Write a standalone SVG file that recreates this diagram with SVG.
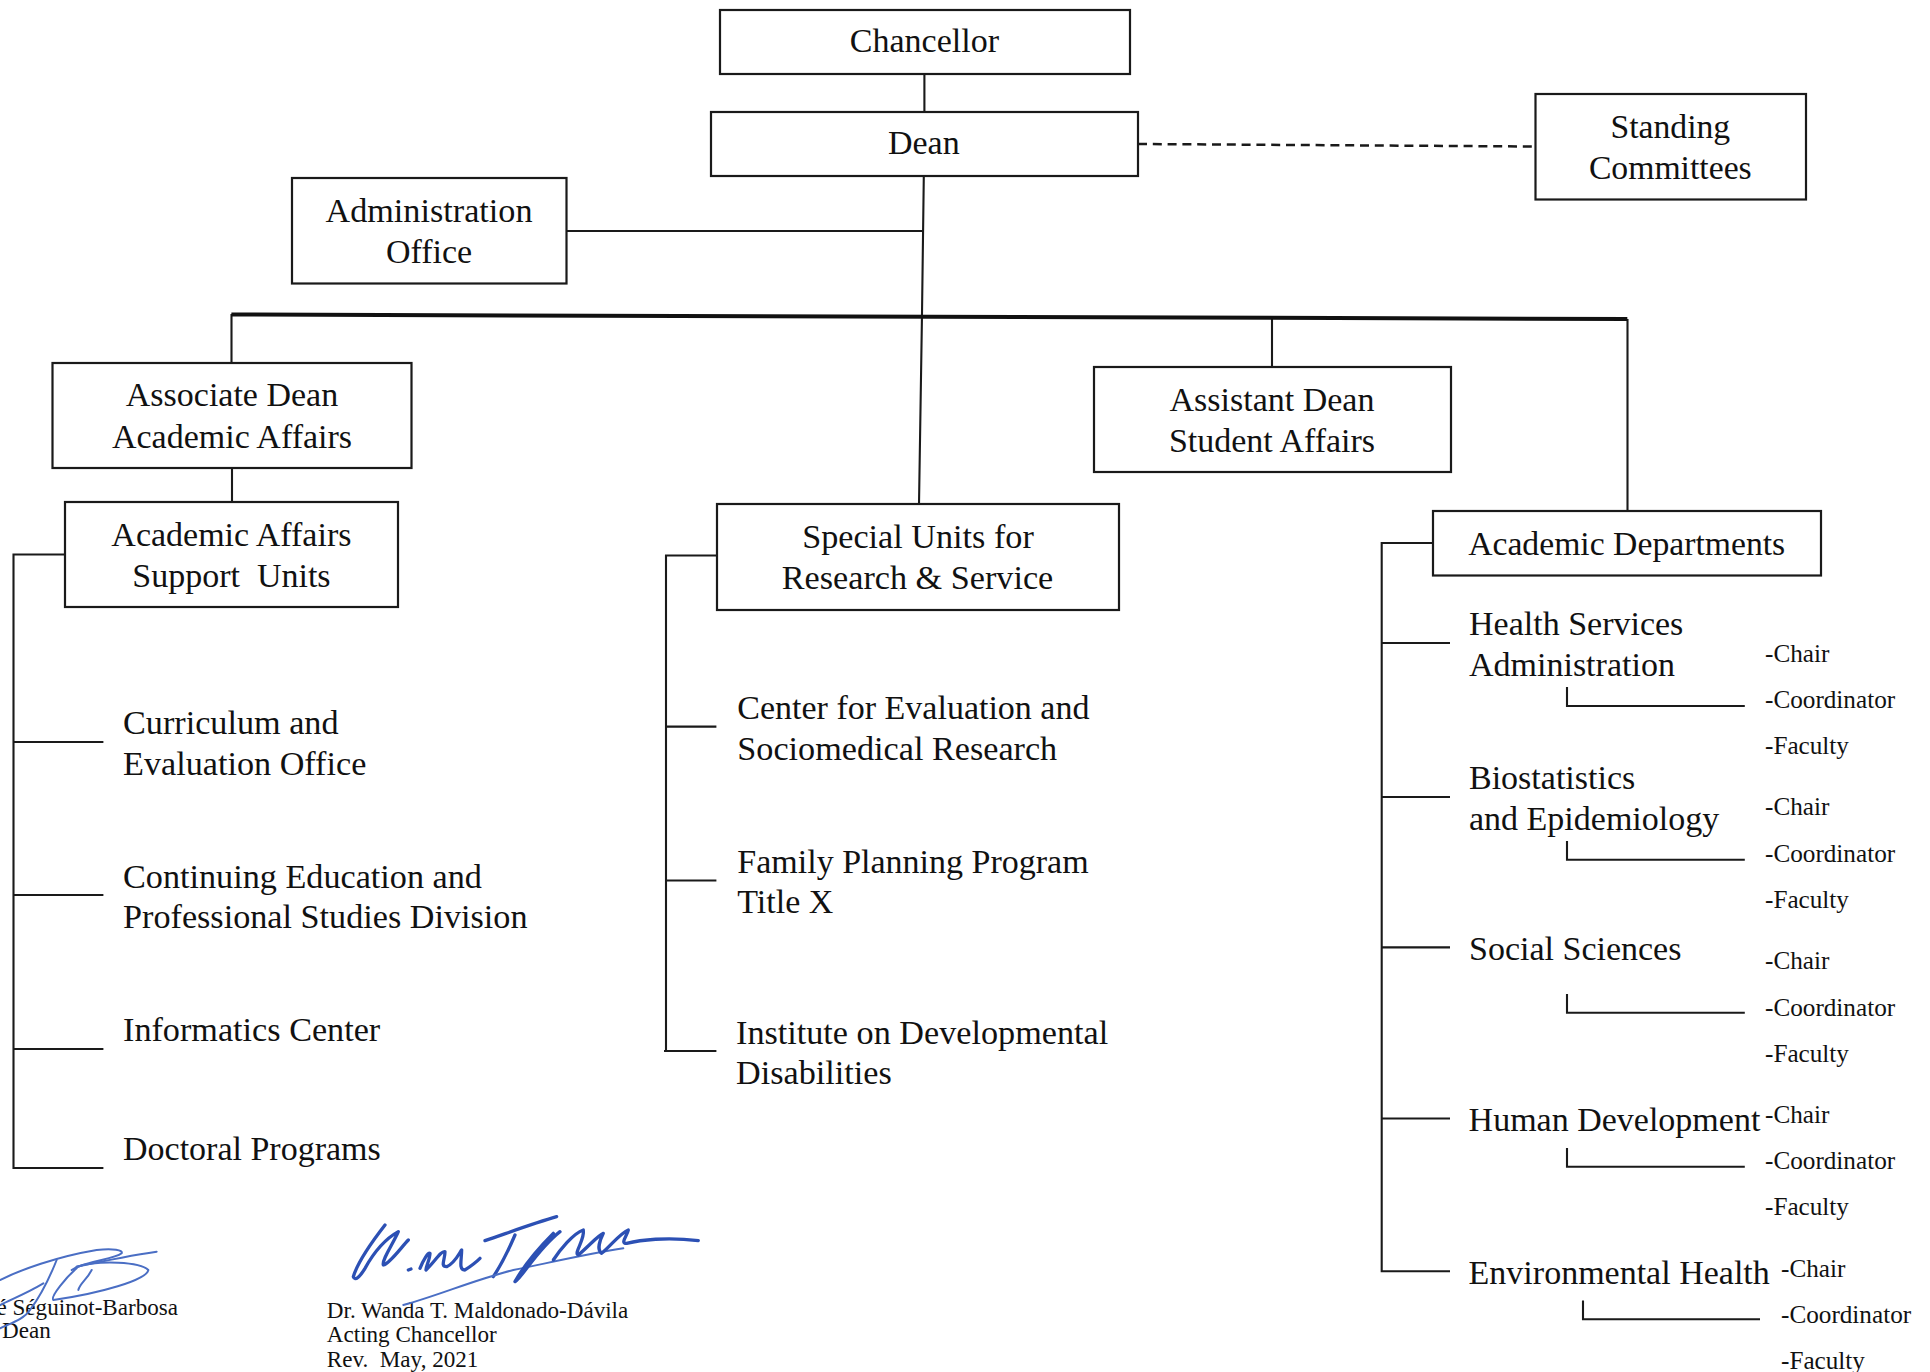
<svg xmlns="http://www.w3.org/2000/svg" width="1930" height="1372" viewBox="0 0 1930 1372">
<style>
text{font-family:"Liberation Serif","Times New Roman",serif;fill:#111;white-space:pre}
.b{fill:#fff;stroke:#1a1a1a;stroke-width:2.2}
.t{font-size:34px}
.w{font-size:34.2px}
.n{font-size:33.7px}
.c{text-anchor:middle}
.s{font-size:25.2px}
.g{font-size:23.1px}
.l{fill:none;stroke:#1a1a1a;stroke-width:2.1}
.sig path{fill:none;stroke:#2c50b4;stroke-width:3.3;stroke-linecap:round;stroke-linejoin:round;vector-effect:non-scaling-stroke}
.sig .f{stroke-width:2;stroke:#4a6ec4}
</style>
<rect width="1930" height="1372" fill="#fff"/>
<g id="connectors">
<path class="l" d="M924.4 74V112M923.8 176L922 314L919 504M567 231H923M231.5 314V363M232 468V502M1272 318V367M1627.5 319V511"/>
<path class="l" d="M231.4 314.5L1627.3 319" style="stroke-width:4;stroke:#111"/>
<path class="l" d="M1138 144L1535.5 146.5" stroke-dasharray="9 5.8" style="stroke-width:2.5"/>
<path class="l" d="M65 554.5H13.5V1168H103.4M13.5 742H103.4M13.5 895H103.4M13.5 1049H103.4"/>
<path class="l" d="M717 555.5H666V1050M666 726.6H716.4M666 880.5H716.4M664 1051H716.4"/>
<path class="l" d="M1433 543H1381.7V1271.3H1450M1381.7 643H1450M1381.7 797H1450M1381.7 947.4H1450M1381.7 1118.5H1450"/>
<path class="l" d="M1567 687V706H1744.8M1567 841V859.7H1744.8M1567 994V1012.8H1744.8M1567 1148V1166.7H1744.8M1583 1300.5V1319.3H1760"/>
</g>
<g id="chancellor"><rect class="b" x="720" y="10" width="410" height="64"/><text class="t c" x="924.4" y="52">Chancellor</text></g>
<g id="dean"><rect class="b" x="711" y="112" width="427" height="64"/><text class="t c" x="923.8" y="154.4">Dean</text></g>
<g id="standing-committees"><rect class="b" x="1535.5" y="94" width="270.5" height="105.5"/><text class="n c" x="1670.3" y="138">Standing</text><text class="n c" x="1670.3" y="178.7">Committees</text></g>
<g id="administration-office"><rect class="b" x="292" y="178" width="274.5" height="105.5"/><text class="w c" x="429" y="221.8">Administration</text><text class="t c" x="429" y="263.4">Office</text></g>
<g id="associate-dean"><rect class="b" x="52.5" y="363" width="359" height="105"/><text class="t c" x="232" y="406.4">Associate Dean</text><text class="t c" x="232" y="447.7">Academic Affairs</text></g>
<g id="support-units"><rect class="b" x="65" y="502" width="333" height="105"/><text class="t c" x="231.4" y="545.5">Academic Affairs</text><text class="t c" x="231.4" y="586.8">Support  Units</text></g>
<g id="special-units"><rect class="b" x="717" y="504" width="402" height="106"/><text class="w c" x="918" y="548">Special Units for</text><text class="w c" x="917.5" y="588.6">Research &amp; Service</text></g>
<g id="assistant-dean"><rect class="b" x="1094" y="367" width="357" height="105"/><text class="t c" x="1272" y="410.7">Assistant Dean</text><text class="t c" x="1272" y="452.4">Student Affairs</text></g>
<g id="academic-departments"><rect class="b" x="1433" y="511" width="388" height="64.5"/><text class="n c" x="1626.7" y="555">Academic Departments</text></g>
<g id="support-list">
<text class="w" x="123" y="733.6">Curriculum and</text><text class="w" x="123" y="774.6">Evaluation Office</text>
<text class="w" x="123" y="887.5">Continuing Education and</text><text class="w" x="123" y="928.4">Professional Studies Division</text>
<text class="w" x="123" y="1041.3">Informatics Center</text>
<text class="t" x="123" y="1160">Doctoral Programs</text>
</g>
<g id="special-list">
<text class="t" x="737.3" y="718.8">Center for Evaluation and</text><text class="w" x="737.3" y="760">Sociomedical Research</text>
<text class="t" x="737.3" y="872.7">Family Planning Program</text><text class="t" x="737.3" y="912.7">Title X</text>
<text class="w" x="736" y="1043.8">Institute on Developmental</text><text class="w" x="736" y="1083.6">Disabilities</text>
</g>
<g id="departments">
<text class="t" x="1469" y="635">Health Services</text><text class="t" x="1469" y="676.2">Administration</text>
<text class="t" x="1469" y="789.2">Biostatistics</text><text class="t" x="1469" y="830.2">and Epidemiology</text>
<text class="t" x="1469" y="960">Social Sciences</text>
<text class="t" x="1468.6" y="1130.6">Human Development</text>
<text class="t" x="1468.6" y="1283.8">Environmental Health</text>
</g>
<g id="roles">
<text class="s" x="1765" y="662">-Chair</text><text class="s" x="1765" y="708.3">-Coordinator</text><text class="s" x="1765" y="754.3">-Faculty</text>
<text class="s" x="1765" y="815.3">-Chair</text><text class="s" x="1765" y="862">-Coordinator</text><text class="s" x="1765" y="907.7">-Faculty</text>
<text class="s" x="1765" y="969">-Chair</text><text class="s" x="1765" y="1016">-Coordinator</text><text class="s" x="1765" y="1062">-Faculty</text>
<text class="s" x="1765" y="1123">-Chair</text><text class="s" x="1765" y="1169">-Coordinator</text><text class="s" x="1765" y="1215">-Faculty</text>
<text class="s" x="1781" y="1277">-Chair</text><text class="s" x="1781" y="1323">-Coordinator</text><text class="s" x="1781" y="1369">-Faculty</text>
</g>
<g id="signature-text">
<text class="g" x="-3.5" y="1315">é Séguinot-Barbosa</text><text class="g" x="2" y="1338">Dean</text>
<text class="g" x="326.8" y="1318">Dr. Wanda T. Maldonado-Dávila</text><text class="g" x="326.8" y="1342">Acting Chancellor</text><text class="g" x="326.8" y="1367">Rev.  May, 2021</text>
</g>
<g class="sig" transform="translate(340 1210) scale(.3333)">
<path d="M135 45C100 90 55 150 40 200C45 215 60 200 75 175C100 130 130 90 175 65C160 100 125 150 130 165C150 160 185 110 205 90"/>
<path d="M205 180l8 -3M240 175C250 150 265 125 270 130C270 150 255 175 258 180C280 160 305 120 315 125C315 150 300 170 320 170C345 160 360 125 365 120C365 150 355 180 375 180C390 170 405 160 420 145"/>
<path d="M435 92C500 70 580 40 650 20M525 75C510 110 480 170 460 200"/>
<path class="f" d="M190 285C300 255 400 210 520 180C620 160 750 130 850 115"/>
<path d="M640 70C600 110 550 170 525 215C545 205 590 120 660 65"/>
<path d="M640 150C660 120 700 70 730 60C735 90 700 130 715 135C745 110 775 75 790 70C780 90 770 120 785 130C810 110 840 70 865 60C860 80 840 100 860 100C900 90 980 80 1075 92"/>
</g>
<g class="sig" transform="translate(0 1240) scale(.3333)">
<path class="f" d="M0 120C60 90 170 50 290 30C340 25 370 30 365 40C340 60 260 60 215 90"/>
<path class="f" d="M170 60C150 110 120 170 90 210C70 240 30 250 0 265"/>
<path class="f" d="M470 35C400 45 300 65 230 80"/>
<path class="f" d="M230 80C300 60 420 65 445 90C440 120 300 160 160 180C150 170 200 110 230 85M275 90C260 120 240 130 235 150M0 195C40 175 80 160 130 130"/>
</g>
</svg>
